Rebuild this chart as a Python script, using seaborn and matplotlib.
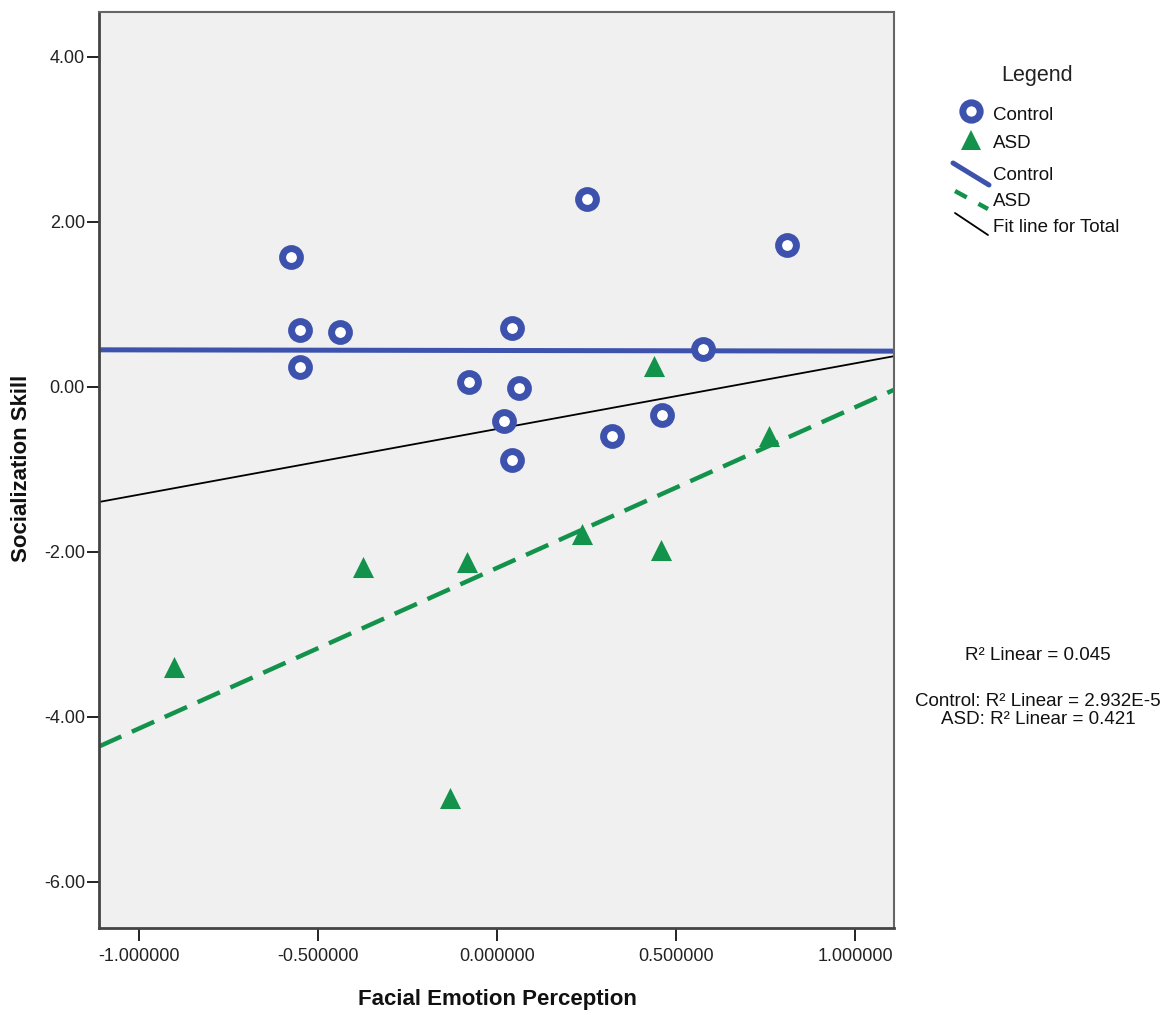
import matplotlib
matplotlib.use("Agg")
import matplotlib.pyplot as plt
from matplotlib.lines import Line2D
from matplotlib.ticker import FormatStrFormatter, MultipleLocator
import numpy as np
import pandas as pd
import seaborn as sns

# Facial emotion perception (x) and socialization skill (y) per group
control_fep = [-0.575, -0.550, -0.4385, -0.550, 0.251, 0.810, 0.042,
               -0.077, 0.061, 0.020, 0.043, 0.321, 0.460, 0.576]
control_soc = [1.576, 0.690, 0.663, 0.239, 2.279, 1.721, 0.719,
               0.064, -0.008, -0.408, -0.885, -0.594, -0.339, 0.461]
asd_fep = [-0.902, -0.374, -0.084, -0.131, 0.439, 0.760, 0.237, 0.458]
asd_soc = [-3.39, -2.18, -2.12, -4.98, 0.25, -0.59, -1.78, -1.98]

groups = ["Control", "ASD"]
r2_total = "R\u00b2 Linear = 0.045"
r2_groups = ["Control: R\u00b2 Linear = 2.932E-5", "ASD: R\u00b2 Linear = 0.421"]

control = pd.DataFrame({"fep": control_fep, "soc": control_soc, "group": groups[0]})
asd = pd.DataFrame({"fep": asd_fep, "soc": asd_soc, "group": groups[1]})
total = pd.concat([control, asd], ignore_index=True)

BLUE = "#3D52AC"
GREEN = "#12924A"
FONT = ["Liberation Sans", "DejaVu Sans"]

sns.set_theme(style="white")
plt.rcParams["font.family"] = FONT
plt.rcParams["axes.unicode_minus"] = False

W, H = 1167, 1015
fig = plt.figure(figsize=(W / 100, H / 100), dpi=100)


def fx(px):
    return px / W


def fy(py):
    return 1 - py / H


ax = fig.add_axes([fx(99), fy(928), (894 - 99) / W, (928 - 12) / H])
ax.set_facecolor("#F0F0F0")
ax.set_xlim(-1.112, 1.109)
ax.set_ylim(-6.56, 4.545)

# Fit lines (extended across the full axis range)
sns.regplot(data=control, x="fep", y="soc", scatter=False, ci=None, truncate=False,
            ax=ax, line_kws=dict(color=BLUE, lw=3.6, zorder=2, solid_capstyle="butt"))
sns.regplot(data=asd, x="fep", y="soc", scatter=False, ci=None, truncate=False,
            ax=ax, line_kws=dict(color=GREEN, lw=3.2, zorder=2, ls=(0, (5.5, 2.6))))
sns.regplot(data=total, x="fep", y="soc", scatter=False, ci=None, truncate=False,
            ax=ax, line_kws=dict(color="black", lw=1.3, zorder=2))

# Group points
sns.scatterplot(data=control, x="fep", y="soc", ax=ax, marker="o", s=165,
                facecolor="white", edgecolor=BLUE, linewidth=5.0, zorder=3, legend=False)
sns.scatterplot(data=asd, x="fep", y="soc", ax=ax, marker="^", s=230,
                color=GREEN, linewidth=0, zorder=3, legend=False)

ax.set_xlim(-1.112, 1.109)
ax.set_ylim(-6.56, 4.545)
ax.xaxis.set_major_locator(MultipleLocator(0.5))
ax.yaxis.set_major_locator(MultipleLocator(2.0))
ax.xaxis.set_major_formatter(FormatStrFormatter("%.6f"))
ax.yaxis.set_major_formatter(FormatStrFormatter("%.2f"))
ax.tick_params(axis="x", direction="out", length=9.5, width=1.4, pad=5,
               labelsize=13, colors="#222222", bottom=True)
ax.tick_params(axis="y", direction="out", length=8.6, width=1.4, pad=1.5,
               labelsize=13, colors="#222222", left=True)
ax.set_xlabel("")
ax.set_ylabel("")
for side, sp in ax.spines.items():
    sp.set_visible(True)
    sp.set_color("#444444" if side in ("left", "bottom") else "#666666")
    sp.set_linewidth(2.0 if side in ("left", "bottom") else 1.5)

fig.text(fx(497), fy(1000), "Facial Emotion Perception", ha="center", va="center",
         fontsize=16, fontweight="bold", color="#111111")
fig.text(fx(22), fy(468), "Socialization Skill", ha="center", va="center",
         rotation=90, fontsize=16, fontweight="bold", color="#111111")

# Legend
fig.text(fx(1037), fy(75), "Legend", ha="center", va="center", fontsize=15.5, color="#222222")
fig.add_artist(Line2D([fx(971)], [fy(111)], marker="o", markersize=12.5,
                      markerfacecolor="white", markeredgecolor=BLUE, markeredgewidth=5.0,
                      ls="none", transform=fig.transFigure))
fig.add_artist(Line2D([fx(971)], [fy(140)], marker="^", markersize=15,
                      color=GREEN, markeredgewidth=0, ls="none", transform=fig.transFigure))
fig.add_artist(Line2D([fx(953), fx(989)], [fy(163), fy(185)], color=BLUE, lw=3.6,
                      transform=fig.transFigure))
fig.add_artist(Line2D([fx(955), fx(988)], [fy(191), fy(209)], color=GREEN, lw=3.2,
                      ls=(0, (3.0, 3.0)), transform=fig.transFigure))
fig.add_artist(Line2D([fx(955), fx(988)], [fy(213), fy(235)], color="black", lw=1.3,
                      transform=fig.transFigure))
legend_labels = [groups[0], groups[1], groups[0], groups[1], "Fit line for Total"]
legend_rows = [115, 143, 175, 202, 227]
for lab, row in zip(legend_labels, legend_rows):
    fig.text(fx(993), fy(row), lab, ha="left", va="center", fontsize=13.5, color="#111111")

# R-squared annotations
fig.text(fx(1038), fy(656), r2_total, ha="center", va="center", fontsize=13.5, color="#111111")
fig.text(fx(1038), fy(701), r2_groups[0], ha="center", va="center", fontsize=13.5, color="#111111")
fig.text(fx(1038), fy(720), r2_groups[1], ha="center", va="center", fontsize=13.5, color="#111111")

fig.savefig("out.png", dpi=100, facecolor="white")
